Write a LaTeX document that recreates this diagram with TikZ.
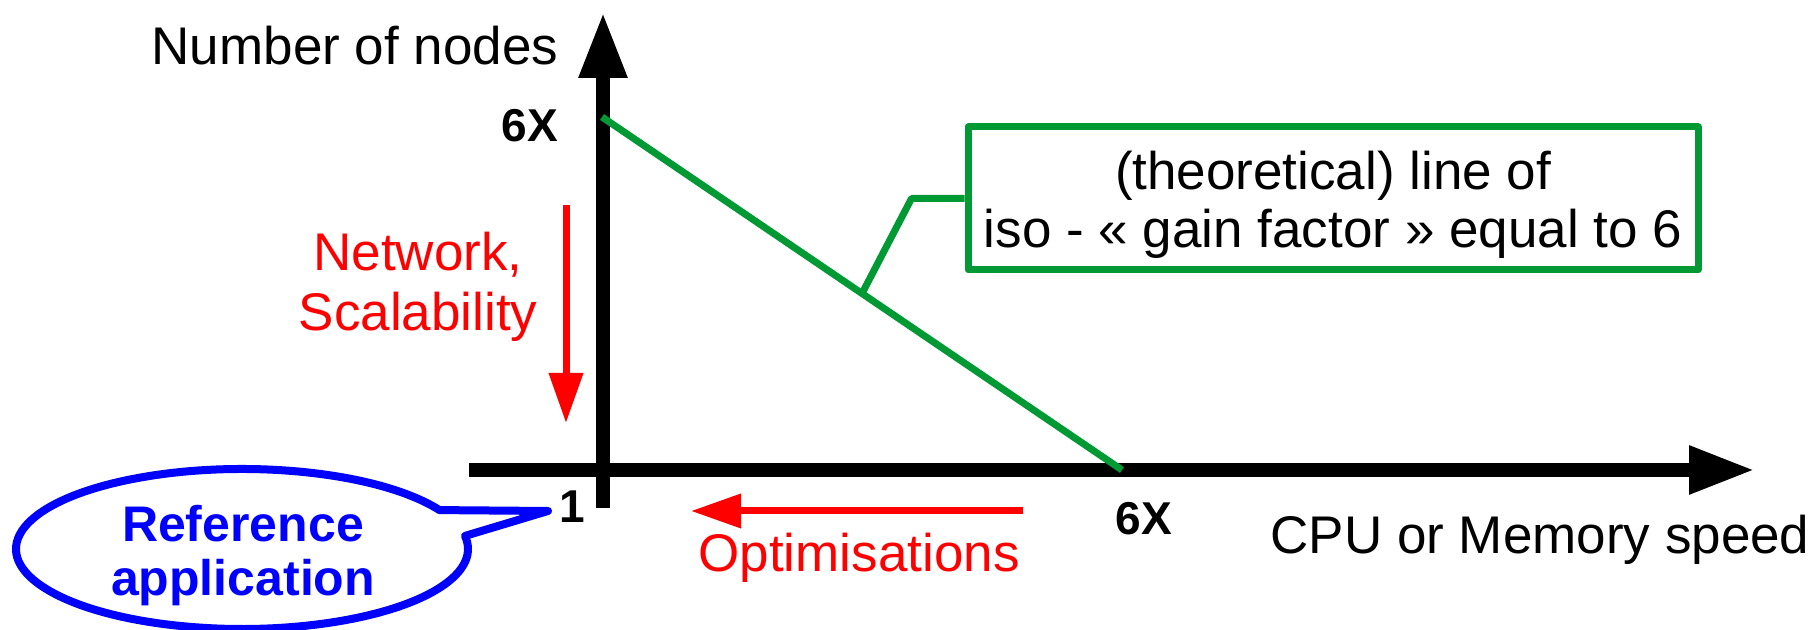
\documentclass[tikz,border=0pt]{standalone}
\usepackage{fontspec}
\setmainfont{Liberation Sans}
\usetikzlibrary{arrows.meta}

\definecolor{isogreen}{RGB}{0,153,51}

\tikzset{
  axis/.style={line width=0.145cm, -{Triangle[length=0.66cm, width=0.45cm]}},
  trend/.style={red, line width=0.07cm, -{Triangle[length=0.5cm, width=0.33cm]}},
  plain/.style={font=\fontsize{15.08}{17.1}\selectfont},
  tick/.style={font=\fontsize{13.1}{15}\selectfont\bfseries},
  isobox/.style={draw=isogreen, line width=0.07cm, line join=round,
    minimum width=7.30cm, minimum height=1.43cm, inner sep=0pt},
}

\begin{document}
\begin{tikzpicture}
  \useasboundingbox (0,0) rectangle (18.16,6.3);
  % Axes (y: number of nodes, x: CPU or memory speed)
  \coordinate (ybot) at (6.03,1.22);
  \coordinate (ytop) at (6.03,6.18);
  \coordinate (xleft) at (4.69,1.60);
  \coordinate (xright) at (17.55,1.60);
  \draw[axis] (ybot) -- (ytop);
  \draw[axis] (xleft) -- (xright);
  % Axis titles and tick labels
  \node[plain, anchor=base] (ylabel) at (3.55,5.65) {Number of nodes};
  \node[plain, anchor=base] (xlabel) at (15.40,0.76) {CPU or Memory speed};
  \node[tick, anchor=base] (ysix) at (5.30,4.88) {6X};
  \node[tick, anchor=base] (xsix) at (11.44,0.95) {6X};
  \node[tick, anchor=base] (one) at (5.72,1.07) {1};
  % Iso gain line from 6X nodes to 6X speed
  \coordinate (isotop) at (6.02,5.13);
  \coordinate (isobot) at (11.22,1.60);
  \draw[isogreen, line width=0.07cm] (isotop) -- coordinate[pos=0.5] (isomid) (isobot);
  % Label box with its connector to the line
  \node[isobox] (isobox) at (13.33,4.315) {};
  \node[font=\fontsize{15.08}{16.5}\selectfont, align=center, anchor=base] (isotext) at (13.33,3.82)
    {(theoretical) line of\\iso - « gain factor » equal to 6};
  \draw[isogreen, line width=0.07cm, line join=round] (isobox.west) -- ++(-0.53,0) -- (isomid);
  % Red trends
  \coordinate (nettop) at (5.66,4.25);
  \coordinate (netbot) at (5.66,2.07);
  \draw[trend] (nettop) -- (netbot);
  \node[plain, red, align=center, anchor=base] (network) at (4.18,2.99) {Network,\\Scalability};
  \coordinate (optright) at (10.23,1.19);
  \coordinate (optleft) at (6.91,1.19);
  \draw[trend] (optright) -- (optleft);
  \node[plain, red, anchor=base] (optim) at (8.59,0.58) {Optimisations};
  % Callout for the reference application (points at 1)
  \coordinate (refcentre) at (2.42,0.81);
  \coordinate (reftip) at (5.48,1.19);
  \draw[blue, line width=0.08cm, line join=round] (refcentre) ++(29.1:2.26 and 0.80)
    arc[start angle=29.1, end angle=369.4, x radius=2.26, y radius=0.80] -- (reftip) -- cycle;
  \node[blue, font=\fontsize{14.23}{15.6}\selectfont\bfseries, align=center, anchor=base]
    (refapp) at (2.43,0.34) {Reference\\application};
\end{tikzpicture}
\end{document}
